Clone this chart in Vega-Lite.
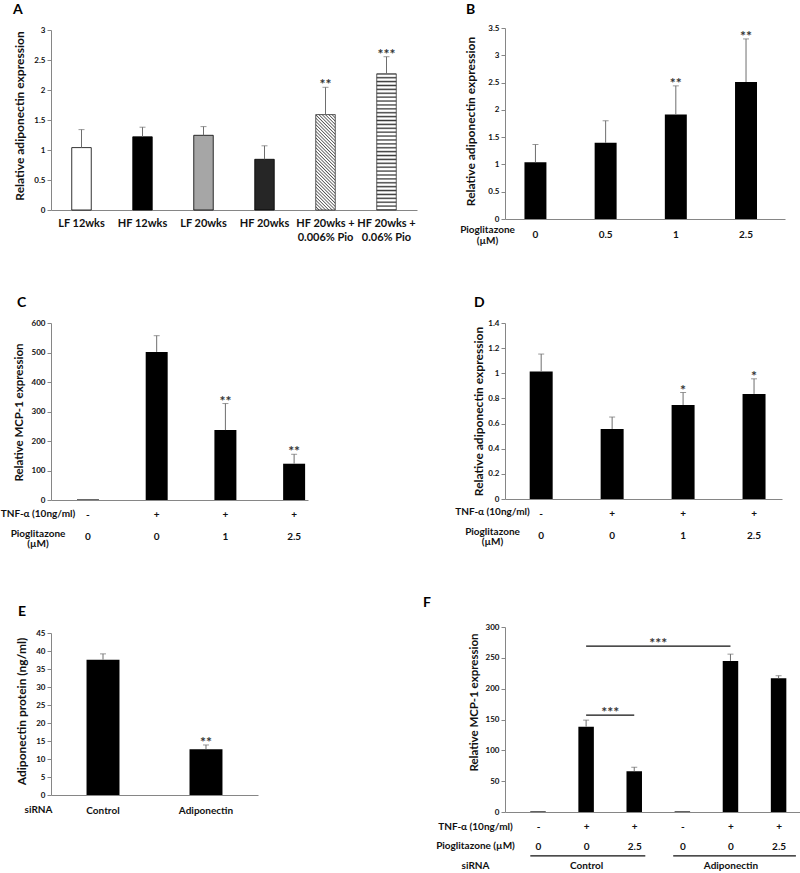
{
"$schema": "https://vega.github.io/schema/vega-lite/v6.json",
"padding": 0,
"background": "white",
"columns": 2,
"bounds": "flush",
"align": "each",
"spacing": {"row": 20, "column": 88},
"config": {
  "font": "Lato",
  "view": {"stroke": null},
  "axis": {"grid": false, "domainColor": "#868686", "domainWidth": 1, "tickColor": "#868686", "labelFont": "Lato", "labelFontWeight": "bold", "labelColor": "#111", "titleFont": "Lato", "titleFontWeight": "bold", "titleColor": "#111", "labelOverlap": false, "labelFlush": false},
  "axisY": {"labelFontSize": 8, "tickSize": 4, "labelPadding": 2, "titleFontSize": 12, "titleBaseline": "middle", "titleAlign": "center", "titleAngle": 270, "labelExpr": "'' + datum.value"},
  "axisX": {"ticks": false, "labelAngle": 0, "labelFontSize": 10, "titleFontSize": 10, "titleAlign": "center", "titleBaseline": "top", "titleAngle": 0},
  "title": {"font": "Lato", "fontSize": 14, "fontWeight": "bold", "anchor": "start", "frame": "group", "color": "#000"}
},
"datasets": {
  "A": [
    {"g": "LF 12wks", "v": 1.04, "hi": 1.34, "sig": ""},
    {"g": "HF 12wks", "v": 1.22, "hi": 1.38, "sig": ""},
    {"g": "LF 20wks", "v": 1.245, "hi": 1.39, "sig": ""},
    {"g": "HF 20wks", "v": 0.845, "hi": 1.07, "sig": ""},
    {"g": "HF 20wks + 0.006% Pio", "v": 1.59, "hi": 2.045, "sig": "**"},
    {"g": "HF 20wks + 0.06% Pio", "v": 2.27, "hi": 2.555, "sig": "***"}
  ],
  "B": [
    {"pio": "0", "v": 1.04, "hi": 1.365, "sig": ""},
    {"pio": "0.5", "v": 1.395, "hi": 1.8, "sig": ""},
    {"pio": "1", "v": 1.915, "hi": 2.44, "sig": "**"},
    {"pio": "2.5", "v": 2.51, "hi": 3.3, "sig": "**"}
  ],
  "C": [
    {"cond": "-|0", "v": 2, "hi": null, "sig": ""},
    {"cond": "+|0", "v": 502, "hi": 557, "sig": ""},
    {"cond": "+|1", "v": 237, "hi": 327, "sig": "**"},
    {"cond": "+|2.5", "v": 123, "hi": 155, "sig": "**"}
  ],
  "D": [
    {"cond": "-|0", "v": 1.014, "hi": 1.153, "sig": ""},
    {"cond": "+|0", "v": 0.557, "hi": 0.652, "sig": ""},
    {"cond": "+|1", "v": 0.748, "hi": 0.847, "sig": "*"},
    {"cond": "+|2.5", "v": 0.836, "hi": 0.956, "sig": "*"}
  ],
  "E": [
    {"sirna": "Control", "v": 37.6, "hi": 39.2, "sig": ""},
    {"sirna": "Adiponectin", "v": 12.7, "hi": 13.9, "sig": "**"}
  ],
  "F": [
    {"x": 1, "v": 1, "hi": null},
    {"x": 2, "v": 138.3, "hi": 149},
    {"x": 3, "v": 66.2, "hi": 72.7},
    {"x": 4, "v": 1, "hi": null},
    {"x": 5, "v": 245, "hi": 256},
    {"x": 6, "v": 217, "hi": 221}
  ],
  "Fsig": [
    {"from": 2, "to": 5, "mid": 3.5, "y": 269, "sig": "***"},
    {"from": 2, "to": 3, "mid": 2.5, "y": 157, "sig": "***"}
  ],
  "Fgrp": [
    {"grp": "Control", "from": 0.84, "to": 3.23, "y": -71},
    {"grp": "Adiponectin", "from": 3.81, "to": 6.36, "y": -71}
  ]
},
"concat": [
  {
    "width": 366, "height": 210,
    "title": {"text": "A", "dx": -38, "offset": -17},
    "data": {"name": "A"},
    "encoding": {
      "x": {"field": "g", "type": "nominal", "sort": null, "scale": {"paddingInner": 0.68, "paddingOuter": 0.34},
            "axis": {"title": null, "labelExpr": "split(replace(datum.label, ' + ', ' +|'), '|')", "labelFontSize": 11, "labelLineHeight": 14.5, "labelPadding": 7.3}},
      "y": {"field": "v", "type": "quantitative", "title": "Relative adiponectin expression", "scale": {"domain": [0, 3], "range": [210, 30], "nice": false},
            "axis": {"values": [0, 0.5, 1, 1.5, 2, 2.5, 3], "titleX": -31.5, "titleY": 115.5}}
    },
    "layer": [
      {"transform": [{"filter": "indexof(datum.g, 'Pio') < 0"}],
       "mark": {"type": "bar", "stroke": "#000", "strokeWidth": 0.8},
       "encoding": {"fill": {"field": "g", "type": "nominal", "scale": {"domain": ["LF 12wks", "HF 12wks", "LF 20wks", "HF 20wks"], "range": ["#ffffff", "#000000", "#a6a6a6", "#262626"]}, "legend": null}}},
      {"transform": [{"filter": "datum.g == 'HF 20wks + 0.006% Pio'"}],
       "mark": {"type": "bar", "stroke": "#333", "strokeWidth": 0.8,
         "fill": {"gradient": "linear", "x1": 0, "y1": 1, "x2": 0.2364, "y2": -0.1562, "stops": [
{"offset":0,"color":"#555"},{"offset":0.01,"color":"#fff"},{"offset":0.0186,"color":"#fff"},
{"offset":0.0286,"color":"#555"},{"offset":0.0386,"color":"#fff"},{"offset":0.0471,"color":"#fff"},
{"offset":0.0571,"color":"#555"},{"offset":0.0671,"color":"#fff"},{"offset":0.0757,"color":"#fff"},
{"offset":0.0857,"color":"#555"},{"offset":0.0957,"color":"#fff"},{"offset":0.1043,"color":"#fff"},
{"offset":0.1143,"color":"#555"},{"offset":0.1243,"color":"#fff"},{"offset":0.1329,"color":"#fff"},
{"offset":0.1429,"color":"#555"},{"offset":0.1529,"color":"#fff"},{"offset":0.1614,"color":"#fff"},
{"offset":0.1714,"color":"#555"},{"offset":0.1814,"color":"#fff"},{"offset":0.19,"color":"#fff"},
{"offset":0.2,"color":"#555"},{"offset":0.21,"color":"#fff"},{"offset":0.2186,"color":"#fff"},
{"offset":0.2286,"color":"#555"},{"offset":0.2386,"color":"#fff"},{"offset":0.2471,"color":"#fff"},
{"offset":0.2571,"color":"#555"},{"offset":0.2671,"color":"#fff"},{"offset":0.2757,"color":"#fff"},
{"offset":0.2857,"color":"#555"},{"offset":0.2957,"color":"#fff"},{"offset":0.3043,"color":"#fff"},
{"offset":0.3143,"color":"#555"},{"offset":0.3243,"color":"#fff"},{"offset":0.3329,"color":"#fff"},
{"offset":0.3429,"color":"#555"},{"offset":0.3529,"color":"#fff"},{"offset":0.3614,"color":"#fff"},
{"offset":0.3714,"color":"#555"},{"offset":0.3814,"color":"#fff"},{"offset":0.39,"color":"#fff"},
{"offset":0.4,"color":"#555"},{"offset":0.41,"color":"#fff"},{"offset":0.4186,"color":"#fff"},
{"offset":0.4286,"color":"#555"},{"offset":0.4386,"color":"#fff"},{"offset":0.4471,"color":"#fff"},
{"offset":0.4571,"color":"#555"},{"offset":0.4671,"color":"#fff"},{"offset":0.4757,"color":"#fff"},
{"offset":0.4857,"color":"#555"},{"offset":0.4957,"color":"#fff"},{"offset":0.5043,"color":"#fff"},
{"offset":0.5143,"color":"#555"},{"offset":0.5243,"color":"#fff"},{"offset":0.5329,"color":"#fff"},
{"offset":0.5429,"color":"#555"},{"offset":0.5529,"color":"#fff"},{"offset":0.5614,"color":"#fff"},
{"offset":0.5714,"color":"#555"},{"offset":0.5814,"color":"#fff"},{"offset":0.59,"color":"#fff"},
{"offset":0.6,"color":"#555"},{"offset":0.61,"color":"#fff"},{"offset":0.6186,"color":"#fff"},
{"offset":0.6286,"color":"#555"},{"offset":0.6386,"color":"#fff"},{"offset":0.6471,"color":"#fff"},
{"offset":0.6571,"color":"#555"},{"offset":0.6671,"color":"#fff"},{"offset":0.6757,"color":"#fff"},
{"offset":0.6857,"color":"#555"},{"offset":0.6957,"color":"#fff"},{"offset":0.7043,"color":"#fff"},
{"offset":0.7143,"color":"#555"},{"offset":0.7243,"color":"#fff"},{"offset":0.7329,"color":"#fff"},
{"offset":0.7429,"color":"#555"},{"offset":0.7529,"color":"#fff"},{"offset":0.7614,"color":"#fff"},
{"offset":0.7714,"color":"#555"},{"offset":0.7814,"color":"#fff"},{"offset":0.79,"color":"#fff"},
{"offset":0.8,"color":"#555"},{"offset":0.81,"color":"#fff"},{"offset":0.8186,"color":"#fff"},
{"offset":0.8286,"color":"#555"},{"offset":0.8386,"color":"#fff"},{"offset":0.8471,"color":"#fff"},
{"offset":0.8571,"color":"#555"},{"offset":0.8671,"color":"#fff"},{"offset":0.8757,"color":"#fff"},
{"offset":0.8857,"color":"#555"},{"offset":0.8957,"color":"#fff"},{"offset":0.9043,"color":"#fff"},
{"offset":0.9143,"color":"#555"},{"offset":0.9243,"color":"#fff"},{"offset":0.9329,"color":"#fff"},
{"offset":0.9429,"color":"#555"},{"offset":0.9529,"color":"#fff"},{"offset":0.9614,"color":"#fff"},
{"offset":0.9714,"color":"#555"},{"offset":0.9814,"color":"#fff"},{"offset":0.99,"color":"#fff"},
{"offset":1,"color":"#555"}]}}},
      {"transform": [{"filter": "datum.g == 'HF 20wks + 0.06% Pio'"}],
       "mark": {"type": "bar", "stroke": "#333", "strokeWidth": 0.8,
         "fill": {"gradient": "linear", "x1": 0, "y1": 0, "x2": 0, "y2": 1, "stops": [
{"offset":0,"color":"#3a3a3a"},{"offset":0.01,"color":"#fff"},{"offset":0.0186,"color":"#fff"},
{"offset":0.0286,"color":"#3a3a3a"},{"offset":0.0386,"color":"#fff"},{"offset":0.0471,"color":"#fff"},
{"offset":0.0571,"color":"#3a3a3a"},{"offset":0.0671,"color":"#fff"},{"offset":0.0757,"color":"#fff"},
{"offset":0.0857,"color":"#3a3a3a"},{"offset":0.0957,"color":"#fff"},{"offset":0.1043,"color":"#fff"},
{"offset":0.1143,"color":"#3a3a3a"},{"offset":0.1243,"color":"#fff"},{"offset":0.1329,"color":"#fff"},
{"offset":0.1429,"color":"#3a3a3a"},{"offset":0.1529,"color":"#fff"},{"offset":0.1614,"color":"#fff"},
{"offset":0.1714,"color":"#3a3a3a"},{"offset":0.1814,"color":"#fff"},{"offset":0.19,"color":"#fff"},
{"offset":0.2,"color":"#3a3a3a"},{"offset":0.21,"color":"#fff"},{"offset":0.2186,"color":"#fff"},
{"offset":0.2286,"color":"#3a3a3a"},{"offset":0.2386,"color":"#fff"},{"offset":0.2471,"color":"#fff"},
{"offset":0.2571,"color":"#3a3a3a"},{"offset":0.2671,"color":"#fff"},{"offset":0.2757,"color":"#fff"},
{"offset":0.2857,"color":"#3a3a3a"},{"offset":0.2957,"color":"#fff"},{"offset":0.3043,"color":"#fff"},
{"offset":0.3143,"color":"#3a3a3a"},{"offset":0.3243,"color":"#fff"},{"offset":0.3329,"color":"#fff"},
{"offset":0.3429,"color":"#3a3a3a"},{"offset":0.3529,"color":"#fff"},{"offset":0.3614,"color":"#fff"},
{"offset":0.3714,"color":"#3a3a3a"},{"offset":0.3814,"color":"#fff"},{"offset":0.39,"color":"#fff"},
{"offset":0.4,"color":"#3a3a3a"},{"offset":0.41,"color":"#fff"},{"offset":0.4186,"color":"#fff"},
{"offset":0.4286,"color":"#3a3a3a"},{"offset":0.4386,"color":"#fff"},{"offset":0.4471,"color":"#fff"},
{"offset":0.4571,"color":"#3a3a3a"},{"offset":0.4671,"color":"#fff"},{"offset":0.4757,"color":"#fff"},
{"offset":0.4857,"color":"#3a3a3a"},{"offset":0.4957,"color":"#fff"},{"offset":0.5043,"color":"#fff"},
{"offset":0.5143,"color":"#3a3a3a"},{"offset":0.5243,"color":"#fff"},{"offset":0.5329,"color":"#fff"},
{"offset":0.5429,"color":"#3a3a3a"},{"offset":0.5529,"color":"#fff"},{"offset":0.5614,"color":"#fff"},
{"offset":0.5714,"color":"#3a3a3a"},{"offset":0.5814,"color":"#fff"},{"offset":0.59,"color":"#fff"},
{"offset":0.6,"color":"#3a3a3a"},{"offset":0.61,"color":"#fff"},{"offset":0.6186,"color":"#fff"},
{"offset":0.6286,"color":"#3a3a3a"},{"offset":0.6386,"color":"#fff"},{"offset":0.6471,"color":"#fff"},
{"offset":0.6571,"color":"#3a3a3a"},{"offset":0.6671,"color":"#fff"},{"offset":0.6757,"color":"#fff"},
{"offset":0.6857,"color":"#3a3a3a"},{"offset":0.6957,"color":"#fff"},{"offset":0.7043,"color":"#fff"},
{"offset":0.7143,"color":"#3a3a3a"},{"offset":0.7243,"color":"#fff"},{"offset":0.7329,"color":"#fff"},
{"offset":0.7429,"color":"#3a3a3a"},{"offset":0.7529,"color":"#fff"},{"offset":0.7614,"color":"#fff"},
{"offset":0.7714,"color":"#3a3a3a"},{"offset":0.7814,"color":"#fff"},{"offset":0.79,"color":"#fff"},
{"offset":0.8,"color":"#3a3a3a"},{"offset":0.81,"color":"#fff"},{"offset":0.8186,"color":"#fff"},
{"offset":0.8286,"color":"#3a3a3a"},{"offset":0.8386,"color":"#fff"},{"offset":0.8471,"color":"#fff"},
{"offset":0.8571,"color":"#3a3a3a"},{"offset":0.8671,"color":"#fff"},{"offset":0.8757,"color":"#fff"},
{"offset":0.8857,"color":"#3a3a3a"},{"offset":0.8957,"color":"#fff"},{"offset":0.9043,"color":"#fff"},
{"offset":0.9143,"color":"#3a3a3a"},{"offset":0.9243,"color":"#fff"},{"offset":0.9329,"color":"#fff"},
{"offset":0.9429,"color":"#3a3a3a"},{"offset":0.9529,"color":"#fff"},{"offset":0.9614,"color":"#fff"},
{"offset":0.9714,"color":"#3a3a3a"},{"offset":0.9814,"color":"#fff"},{"offset":0.99,"color":"#fff"},
{"offset":1,"color":"#3a3a3a"}]}}},
      {"transform": [{"filter": "datum.hi != null"}], "mark": {"type": "rule", "color": "#6e6e6e"}, "encoding": {"y2": {"field": "hi"}}},
      {"transform": [{"filter": "datum.hi != null"}], "mark": {"type": "tick", "orient": "horizontal", "size": 6, "thickness": 1, "color": "#6e6e6e"}, "encoding": {"y": {"field": "hi", "type": "quantitative", "title": "Relative adiponectin expression"}}},
      {"transform": [{"filter": "datum.hi != null"}], "mark": {"type": "text", "baseline": "alphabetic", "dy": 2, "fontSize": 14, "fontWeight": "bold", "color": "#333"}, "encoding": {"y": {"field": "hi", "type": "quantitative", "title": "Relative adiponectin expression"}, "text": {"field": "sig"}}}
    ]
  },
  {
    "width": 280, "height": 219,
    "title": {"text": "B", "dx": -39, "offset": -17},
    "data": {"name": "B"},
    "encoding": {
      "x": {"field": "pio", "type": "nominal", "sort": null, "scale": {"paddingInner": 0.687, "paddingOuter": 0.338, "align": 0.41},
            "axis": {"title": ["Pioglitazone", "(µM)"], "titleX": -18, "titleY": 5.3, "titleLineHeight": 11, "labelPadding": 10.3}},
      "y": {"field": "v", "type": "quantitative", "title": "Relative adiponectin expression", "scale": {"domain": [0, 3.5], "range": [219, 28], "nice": false},
            "axis": {"values": [0, 0.5, 1, 1.5, 2, 2.5, 3, 3.5], "titleX": -34.5, "titleY": 121}}
    },
    "layer": [
      {"mark": {"type": "bar", "color": "#000"}},
      {"transform": [{"filter": "datum.hi != null"}], "mark": {"type": "rule", "color": "#6e6e6e"}, "encoding": {"y2": {"field": "hi"}}},
      {"transform": [{"filter": "datum.hi != null"}], "mark": {"type": "tick", "orient": "horizontal", "size": 6, "thickness": 1, "color": "#6e6e6e"}, "encoding": {"y": {"field": "hi", "type": "quantitative", "title": "Relative adiponectin expression"}}},
      {"transform": [{"filter": "datum.hi != null"}], "mark": {"type": "text", "baseline": "alphabetic", "dy": 2, "fontSize": 14, "fontWeight": "bold", "color": "#333"}, "encoding": {"y": {"field": "hi", "type": "quantitative", "title": "Relative adiponectin expression"}, "text": {"field": "sig"}}}
    ]
  },
  {
    "width": 257, "height": 261,
    "title": {"text": "C", "dx": -34, "offset": -71},
    "data": {"name": "C"},
    "encoding": {
      "x": {"field": "cond", "type": "nominal", "sort": null, "scale": {"paddingInner": 0.68, "paddingOuter": 0.21, "align": 0.9},
            "axis": {"title": ["TNF-α (10ng/ml)", "\u200b", "Pioglitazone", "(µM)"], "titleX": -13.5, "titleY": 8.3, "titleLineHeight": 10, "labelExpr": "split(datum.label, '|')", "labelLineHeight": 21.5, "labelPadding": 9.8}},
      "y": {"field": "v", "type": "quantitative", "title": "Relative MCP-1 expression", "scale": {"domain": [0, 600], "range": [261, 84], "nice": false},
            "axis": {"titleFontSize": 11.5, "values": [0, 100, 200, 300, 400, 500, 600], "titleX": -31.5, "titleY": 173}}
    },
    "layer": [
      {"mark": {"type": "bar", "color": "#000"}},
      {"transform": [{"filter": "datum.hi != null"}], "mark": {"type": "rule", "color": "#6e6e6e"}, "encoding": {"y2": {"field": "hi"}}},
      {"transform": [{"filter": "datum.hi != null"}], "mark": {"type": "tick", "orient": "horizontal", "size": 6, "thickness": 1, "color": "#6e6e6e"}, "encoding": {"y": {"field": "hi", "type": "quantitative", "title": "Relative MCP-1 expression"}}},
      {"transform": [{"filter": "datum.hi != null"}], "mark": {"type": "text", "baseline": "alphabetic", "dy": 2, "fontSize": 14, "fontWeight": "bold", "color": "#333"}, "encoding": {"y": {"field": "hi", "type": "quantitative", "title": "Relative MCP-1 expression"}, "text": {"field": "sig"}}}
    ]
  },
  {
    "width": 277, "height": 260,
    "title": {"text": "D", "dx": -31, "offset": -71},
    "data": {"name": "D"},
    "encoding": {
      "x": {"field": "cond", "type": "nominal", "sort": null, "scale": {"paddingInner": 0.676, "paddingOuter": 0.29, "align": 0.6},
            "axis": {"title": ["TNF-α (10ng/ml)", "\u200b", "Pioglitazone", "(µM)"], "titleX": -13, "titleY": 7.3, "titleLineHeight": 10, "labelExpr": "split(datum.label, '|')", "labelLineHeight": 21.5, "labelPadding": 9.8}},
      "y": {"field": "v", "type": "quantitative", "title": "Relative adiponectin expression", "scale": {"domain": [0, 1.4], "range": [260, 84], "nice": false},
            "axis": {"values": [0, 0.2, 0.4, 0.6, 0.8, 1, 1.2, 1.4], "titleX": -26.5, "titleY": 172}}
    },
    "layer": [
      {"mark": {"type": "bar", "color": "#000"}},
      {"transform": [{"filter": "datum.hi != null"}], "mark": {"type": "rule", "color": "#6e6e6e"}, "encoding": {"y2": {"field": "hi"}}},
      {"transform": [{"filter": "datum.hi != null"}], "mark": {"type": "tick", "orient": "horizontal", "size": 6, "thickness": 1, "color": "#6e6e6e"}, "encoding": {"y": {"field": "hi", "type": "quantitative", "title": "Relative adiponectin expression"}}},
      {"transform": [{"filter": "datum.hi != null"}], "mark": {"type": "text", "baseline": "alphabetic", "dy": 2, "fontSize": 14, "fontWeight": "bold", "color": "#333"}, "encoding": {"y": {"field": "hi", "type": "quantitative", "title": "Relative adiponectin expression"}, "text": {"field": "sig"}}}
    ]
  },
  {
    "width": 207, "height": 275,
    "title": {"text": "E", "dx": -33, "offset": -99},
    "data": {"name": "E"},
    "encoding": {
      "x": {"field": "sirna", "type": "nominal", "sort": null, "scale": {"paddingInner": 0.68, "paddingOuter": 0.345},
            "axis": {"title": "siRNA", "titleX": -13, "titleY": 9.6, "labelPadding": 10.3}},
      "y": {"field": "v", "type": "quantitative", "title": "Adiponectin protein (ng/ml)", "scale": {"domain": [0, 45], "range": [275, 113], "nice": false},
            "axis": {"values": [0, 5, 10, 15, 20, 25, 30, 35, 40, 45], "titleX": -29.5, "titleY": 191}}
    },
    "layer": [
      {"mark": {"type": "bar", "color": "#000"}},
      {"transform": [{"filter": "datum.hi != null"}], "mark": {"type": "rule", "color": "#6e6e6e"}, "encoding": {"y2": {"field": "hi"}}},
      {"transform": [{"filter": "datum.hi != null"}], "mark": {"type": "tick", "orient": "horizontal", "size": 6, "thickness": 1, "color": "#6e6e6e"}, "encoding": {"y": {"field": "hi", "type": "quantitative", "title": "Adiponectin protein (ng/ml)"}}},
      {"transform": [{"filter": "datum.hi != null"}], "mark": {"type": "text", "baseline": "alphabetic", "dy": 2, "fontSize": 14, "fontWeight": "bold", "color": "#333"}, "encoding": {"y": {"field": "hi", "type": "quantitative", "title": "Adiponectin protein (ng/ml)"}, "text": {"field": "sig"}}}
    ]
  },
  {
    "width": 296, "height": 292,
    "title": {"text": "F", "dx": -82, "offset": -90},
    "encoding": {
      "x": {"field": "x", "type": "quantitative", "title": ["TNF-α (10ng/ml)", "\u200b", "Pioglitazone (µM)", "\u200b", "siRNA"], "scale": {"domain": [0.418, 6.362], "nice": false, "zero": false},
            "axis": {"titleX": -30, "titleY": 9.3, "titleLineHeight": 9.85,
                     "values": [1, 2, 3, 4, 5, 6], "labelExpr": "[['-','0'],['+','0','Control'],['+','2.5'],['-','0'],['+','0','Adiponectin'],['+','2.5']][datum.value - 1]", "labelLineHeight": 19.8, "labelPadding": 9.3}},
      "y": {"field": "v", "type": "quantitative", "title": "Relative MCP-1 expression", "scale": {"domain": [0, 300], "range": [292, 107], "nice": false},
            "axis": {"titleFontSize": 11.5, "values": [0, 50, 100, 150, 200, 250, 300], "titleX": -30.5, "titleY": 182}}
    },
    "layer": [
      {"data": {"name": "F"}, "mark": {"type": "bar", "orient": "vertical", "size": 15.5, "color": "#000"}},
      {"data": {"name": "F"}, "transform": [{"filter": "datum.hi != null"}], "mark": {"type": "rule", "color": "#6e6e6e"}, "encoding": {"y2": {"field": "hi"}}},
      {"data": {"name": "F"}, "transform": [{"filter": "datum.hi != null"}], "mark": {"type": "tick", "orient": "horizontal", "size": 6, "thickness": 1, "color": "#6e6e6e"}, "encoding": {"y": {"field": "hi", "type": "quantitative", "title": "Relative MCP-1 expression"}}},
      {"data": {"name": "Fsig"}, "mark": {"type": "rule", "color": "#111", "strokeWidth": 1.2},
       "encoding": {"x": {"field": "from", "type": "quantitative", "title": ["TNF-α (10ng/ml)", "\u200b", "Pioglitazone (µM)", "\u200b", "siRNA"]}, "x2": {"field": "to"}, "y": {"field": "y", "type": "quantitative", "title": "Relative MCP-1 expression"}}},
      {"data": {"name": "Fsig"}, "mark": {"type": "text", "baseline": "alphabetic", "dy": 2, "fontSize": 14, "fontWeight": "bold", "color": "#333"},
       "encoding": {"x": {"field": "mid", "type": "quantitative", "title": ["TNF-α (10ng/ml)", "\u200b", "Pioglitazone (µM)", "\u200b", "siRNA"]}, "y": {"field": "y", "type": "quantitative", "title": "Relative MCP-1 expression"}, "text": {"field": "sig"}}},
      {"data": {"name": "Fgrp"}, "mark": {"type": "rule", "color": "#111", "strokeWidth": 1.2},
       "encoding": {"x": {"field": "from", "type": "quantitative", "title": ["TNF-α (10ng/ml)", "\u200b", "Pioglitazone (µM)", "\u200b", "siRNA"]}, "x2": {"field": "to"}, "y": {"field": "y", "type": "quantitative", "title": "Relative MCP-1 expression"}}}
    ]
  }
]
}
